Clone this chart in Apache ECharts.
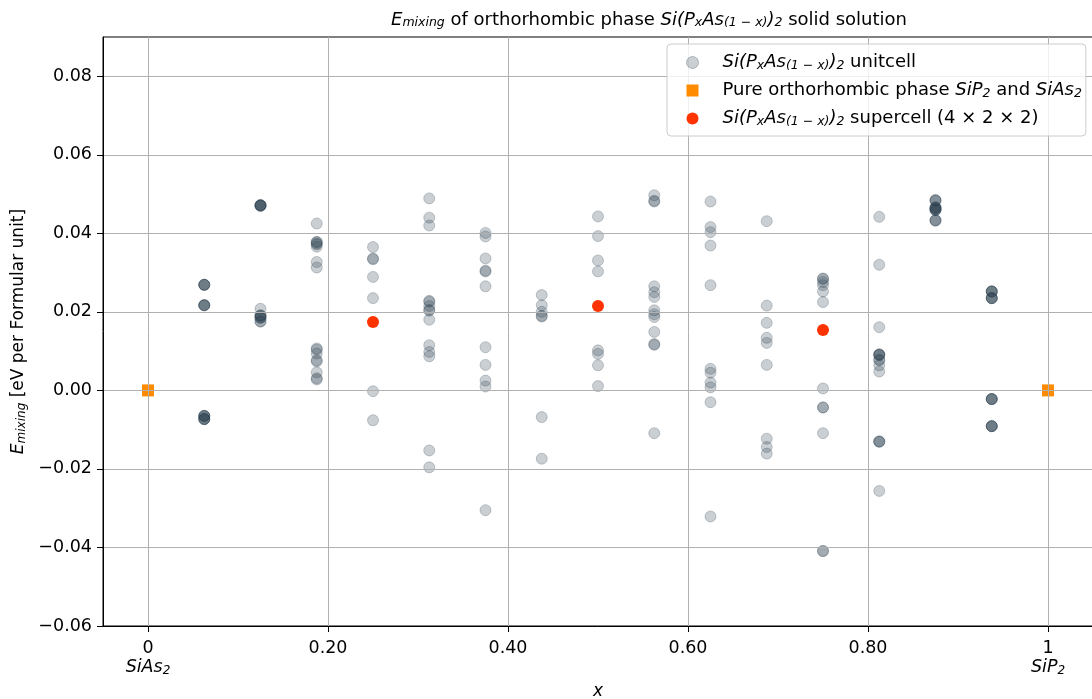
<!DOCTYPE html>
<html><head><meta charset="utf-8">
<script src="https://cdn.jsdelivr.net/npm/echarts@6/dist/echarts.min.js"></script>
<style>html,body{margin:0;padding:0;background:#fff}#c{width:1092px;height:699px}</style>
</head><body><div id="c"></div><script>
// composition x of each unit-cell column
const compositions = [0.0625, 0.125, 0.1875, 0.25, 0.3125, 0.375, 0.4375, 0.5, 0.5625, 0.625, 0.6875, 0.75, 0.8125, 0.875, 0.9375];
// E_mixing of every unit-cell configuration (eV per formula unit), one list per composition
const e01 = [0.0269, 0.0269, 0.0269, 0.0269, 0.0217, 0.0217, 0.0217, 0.0217, -0.0065, -0.0065, -0.0065, -0.0065, -0.0073, -0.0073, -0.0073, -0.0073];
const e02 = [0.0472, 0.0472, 0.0471, 0.0471, 0.0470, 0.0470, 0.0208, 0.0191, 0.0191, 0.0190, 0.0186, 0.0185, 0.0185, 0.0176, 0.0175];
const e03 = [0.0425, 0.0378, 0.0378, 0.0374, 0.0372, 0.0366, 0.0327, 0.0313, 0.0107, 0.0104, 0.0094, 0.0077, 0.0074, 0.0046, 0.0031, 0.0028];
const e04 = [0.0365, 0.0336, 0.0334, 0.0289, 0.0235, -0.0002, -0.0076];
const e05 = [0.0489, 0.0440, 0.0420, 0.0228, 0.0226, 0.0215, 0.0205, 0.0203, 0.0180, 0.0115, 0.0098, 0.0087, -0.0153, -0.0196];
const e06 = [0.0401, 0.0392, 0.0336, 0.0305, 0.0303, 0.0265, 0.0110, 0.0065, 0.0025, 0.0010, -0.0305];
const e07 = [0.0243, 0.0217, 0.0200, 0.0190, 0.0188, -0.0068, -0.0174];
const e08 = [0.0443, 0.0393, 0.0331, 0.0303, 0.0102, 0.0093, 0.0064, 0.0011];
const e09 = [0.0497, 0.0483, 0.0481, 0.0265, 0.0250, 0.0238, 0.0204, 0.0194, 0.0187, 0.0149, 0.0118, 0.0116, -0.0109];
const e10 = [0.0481, 0.0416, 0.0403, 0.0369, 0.0268, 0.0055, 0.0045, 0.0020, 0.0008, -0.0030, -0.0321];
const e11 = [0.0431, 0.0216, 0.0172, 0.0134, 0.0121, 0.0065, -0.0123, -0.0144, -0.0161];
const e12 = [0.0285, 0.0284, 0.0276, 0.0268, 0.0252, 0.0225, 0.0005, -0.0044, -0.0043, -0.0109, -0.0409, -0.0409];
const e13 = [0.0442, 0.0320, 0.0161, 0.0092, 0.0091, 0.0091, 0.0090, 0.0078, 0.0077, 0.0064, 0.0048, -0.0130, -0.0130, -0.0131, -0.0256];
const e14 = [0.0485, 0.0484, 0.0483, 0.0466, 0.0466, 0.0465, 0.0464, 0.0461, 0.0460, 0.0460, 0.0459, 0.0434, 0.0433, 0.0432];
const e15 = [0.0252, 0.0252, 0.0252, 0.0252, 0.0235, 0.0235, 0.0235, 0.0235, -0.0022, -0.0022, -0.0022, -0.0022, -0.0091, -0.0091, -0.0091, -0.0091];
const unitcellEnergies = [e01, e02, e03, e04, e05, e06, e07, e08, e09, e10, e11, e12, e13, e14, e15];
// pure end members
const pureX = [0, 1];
const pureE = [0, 0];
// 4x2x2 supercell results
const superX = [0.25, 0.5, 0.75];
const superE = [0.0174, 0.0215, 0.0154];
// tick positions
const xTicks = [0, 0.2, 0.4, 0.6, 0.8, 1];
const yTicks = [-0.06, -0.04, -0.02, 0, 0.02, 0.04, 0.06, 0.08];

const FONT = 'DejaVu Sans';
const unitData = [];
compositions.forEach((x, i) => unitcellEnergies[i].forEach(e => unitData.push([x, e])));
const pureData = pureX.map((x, i) => [x, pureE[i]]);
const superData = superX.map((x, i) => [x, superE[i]]);

function richSet(size, subSize, lh, drop) {
  const base = {fontFamily: FONT, color: '#000', fontWeight: 'normal', lineHeight: lh};
  return {
    t: Object.assign({}, base, {fontSize: size}),
    i: Object.assign({}, base, {fontSize: size, fontStyle: 'italic'}),
    s: Object.assign({}, base, {fontSize: subSize, fontStyle: 'italic', padding: [drop * 2, 0, 0, 0]}),
    g: Object.assign({}, base, {fontSize: size, width: 19})
  };
}
const formulaSi = '{i|Si(P}{s|x}{i|As}{s|(1 − x)}{i|)}{s|2}';
const legendLabels = {
  unitcell: '{g|}' + formulaSi + '{t| unitcell}',
  pure: '{g|}{t|Pure orthorhombic phase }{i|SiP}{s|2}{t| and }{i|SiAs}{s|2}',
  supercell: '{g|}' + formulaSi + '{t| supercell (4 × 2 × 2)}'
};

const chart = echarts.init(document.getElementById('c'), null, {renderer: 'canvas'});
chart.setOption({
  animation: false,
  backgroundColor: '#fff',
  title: {
    text: '{i|E}{s|mixing}{t| of orthorhombic phase }' + formulaSi + '{t| solid solution}',
    left: 644, top: 2, textAlign: 'center',
    textStyle: {fontWeight: 'normal', fontSize: 18, fontFamily: FONT, rich: richSet(18, 12.5, 26, 3)}
  },
  grid: {left: 103, right: -1, top: 37, bottom: 73, outerBoundsMode: 'none', containLabel: false,
         show: true, borderColor: '#000', borderWidth: 1, backgroundColor: 'transparent'},
  legend: {
    orient: 'vertical', left: 667, top: 44,
    padding: [9, 4, 8, 19], itemWidth: 12, itemHeight: 12, itemGap: 9,
    backgroundColor: 'rgba(255,255,255,0.8)', borderColor: '#cccccc', borderWidth: 1, borderRadius: 4,
    textStyle: {fontFamily: FONT, fontSize: 18, color: '#000', rich: richSet(18, 12.5, 22, 3)},
    formatter: name => legendLabels[name],
    data: [
      {name: 'unitcell', itemStyle: {color: 'rgba(44,62,80,0.25)', borderColor: 'rgba(44,62,80,0.3)', borderWidth: 1}},
      'pure', 'supercell'
    ]
  },
  xAxis: {
    type: 'value', min: -0.05, max: 1.05, z: 3,
    axisLine: {show: true, onZero: false, lineStyle: {color: '#000', width: 1}},
    axisTick: {show: true, inside: false, length: 6, customValues: xTicks, lineStyle: {color: '#000'}},
    axisLabel: {
      customValues: xTicks, margin: 13, color: '#000', fontFamily: FONT, fontSize: 17.5,
      formatter: v => {
        if (v === 0) return '{t|0}\n{i|SiAs}{s|2}';
        if (v === 1) return '{t|1}\n{i|SiP}{s|2}';
        return '{t|' + v.toFixed(2) + '}';
      },
      rich: richSet(17.5, 12, 19, 3)
    },
    splitLine: {show: true, lineStyle: {color: '#b0b0b0', width: 1}},
    name: '{i|x}', nameLocation: 'middle', nameGap: 56,
    nameTextStyle: {rich: richSet(17, 12, 20, 3)}
  },
  yAxis: {
    type: 'value', min: -0.06, max: 0.09, z: 3,
    axisLine: {show: true, onZero: false, lineStyle: {color: '#000', width: 1}},
    axisTick: {show: true, inside: false, length: 6, customValues: yTicks, lineStyle: {color: '#000'}},
    axisLabel: {
      customValues: yTicks, margin: 11, color: '#000', fontFamily: FONT, fontSize: 17.5,
      formatter: v => (v < -1e-9 ? '−' : '') + Math.abs(v).toFixed(2)
    },
    splitLine: {show: true, lineStyle: {color: '#b0b0b0', width: 1}},
    name: '{i|E}{s|mixing}{t| [eV per Formular unit]}', nameLocation: 'middle', nameGap: 73, nameRotate: 90,
    nameTextStyle: {rich: richSet(17, 12, 20, 3)}
  },
  series: [
    {
      name: 'unitcell', type: 'scatter', data: unitData, symbol: 'circle', symbolSize: 11, z: 2,
      itemStyle: {color: 'rgba(44,62,80,0.25)', borderColor: 'rgba(44,62,80,0.25)', borderWidth: 1, opacity: 1},
      emphasis: {disabled: true}
    },
    {
      name: 'pure', type: 'scatter', data: pureData, symbol: 'rect', symbolSize: 12, z: 2,
      itemStyle: {color: '#ff8c00', opacity: 1}, emphasis: {disabled: true}
    },
    {
      name: 'supercell', type: 'scatter', data: superData, symbol: 'circle', symbolSize: 12, z: 2,
      itemStyle: {color: '#ff3300', opacity: 1}, emphasis: {disabled: true}
    }
  ]
});
</script></body></html>
